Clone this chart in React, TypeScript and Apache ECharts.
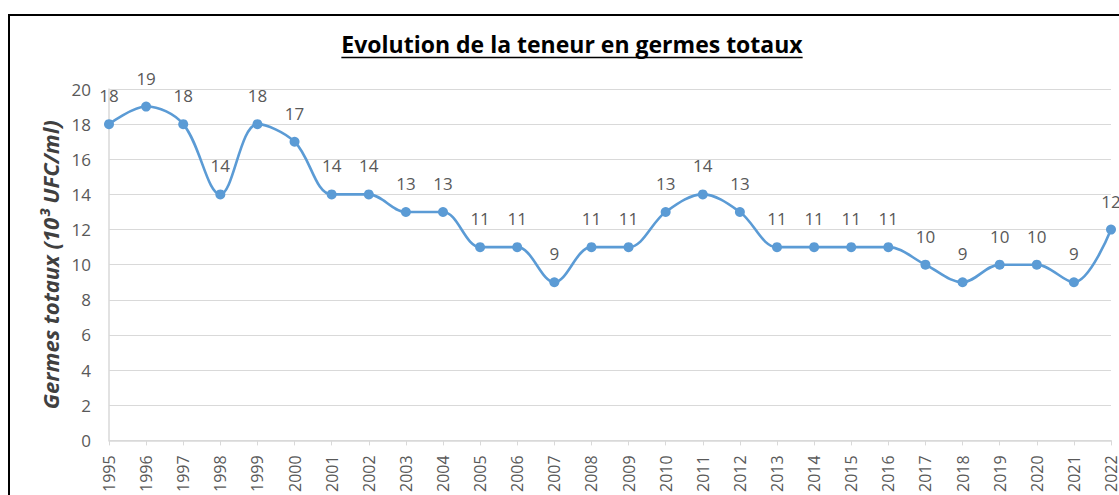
import React, { useEffect, useRef } from "react";
import * as echarts from "echarts";

const years: string[] = [
  "1995", "1996", "1997", "1998", "1999", "2000", "2001", "2002", "2003", "2004",
  "2005", "2006", "2007", "2008", "2009", "2010", "2011", "2012", "2013", "2014",
  "2015", "2016", "2017", "2018", "2019", "2020", "2021", "2022",
];
const germes: number[] = [
  18, 19, 18, 14, 18, 17, 14, 14, 13, 13,
  11, 11, 9, 11, 11, 13, 14, 13, 11, 11,
  11, 11, 10, 9, 10, 10, 9, 12,
];
const titleText = "Evolution de la teneur en germes totaux";
const yAxisTitle = "Germes totaux (10³ UFC/ml)";

const W = 1119;
const H = 495;

export default function App() {
  const ref = useRef<HTMLDivElement>(null);
  useEffect(() => {
    document.body.style.margin = "0";
    document.body.style.overflow = "hidden";
    document.documentElement.style.overflow = "hidden";
    const chart = echarts.init(ref.current!, null, { renderer: "svg", width: W, height: H });
    const titleFont = "bold 23px 'Open Sans'";
    const ctx = document.createElement("canvas").getContext("2d")!;
    ctx.font = titleFont;
    const tw = ctx.measureText(titleText).width;
    const tcx = 572;
    chart.setOption({
      animation: false,
      grid: { left: 109, right: 2, top: 89, bottom: 54, containLabel: false },
      graphic: [
        {
          type: "rect",
          shape: { x: 9, y: 15, width: 1300, height: 700 },
          style: { fill: "none", stroke: "#000", lineWidth: 2 },
          silent: true,
        },
        {
          type: "text",
          x: tcx,
          y: 44,
          style: {
            text: titleText,
            font: titleFont,
            fill: "#000",
            align: "center",
            verticalAlign: "middle",
          },
        },
        {
          type: "line",
          shape: { x1: tcx - tw / 2, y1: 57.5, x2: tcx + tw / 2, y2: 57.5 },
          style: { stroke: "#000", lineWidth: 1.5 },
        },
      ],
      xAxis: {
        type: "category",
        data: years,
        boundaryGap: false,
        axisLine: { lineStyle: { color: "#d9d9d9", width: 1.5 } },
        axisTick: { show: true, alignWithLabel: true, length: 5, lineStyle: { color: "#d9d9d9" } },
        axisLabel: {
          rotate: 90,
          interval: 0,
          margin: 15,
          fontSize: 16,
          color: "#595959",
          fontFamily: "Open Sans",
        },
        splitLine: { show: false },
      },
      yAxis: {
        type: "value",
        min: 0,
        max: 20,
        interval: 2,
        name: yAxisTitle,
        nameLocation: "middle",
        nameRotate: 90,
        nameGap: 45,
        nameTextStyle: {
          fontSize: 22,
          fontWeight: "bold",
          fontStyle: "italic",
          color: "#404040",
          fontFamily: "Open Sans",
        },
        axisLine: { show: true, lineStyle: { color: "#d9d9d9", width: 1.5 } },
        axisTick: { show: false },
        axisLabel: { margin: 18, fontSize: 17, color: "#595959", fontFamily: "Open Sans" },
        splitLine: { lineStyle: { color: "#d9d9d9", width: 1.2 } },
      },
      series: [
        {
          type: "line",
          data: germes,
          smooth: 0.35,
          symbol: "circle",
          symbolSize: 10,
          itemStyle: { color: "#5b9bd5" },
          lineStyle: { color: "#5b9bd5", width: 2.6 },
          label: {
            show: true,
            position: "top",
            distance: 15,
            fontSize: 17,
            color: "#595959",
            fontFamily: "Open Sans",
          },
          clip: false,
        },
      ],
    });
    return () => chart.dispose();
  }, []);
  return <div ref={ref} style={{ width: W, height: H }} />;
}
